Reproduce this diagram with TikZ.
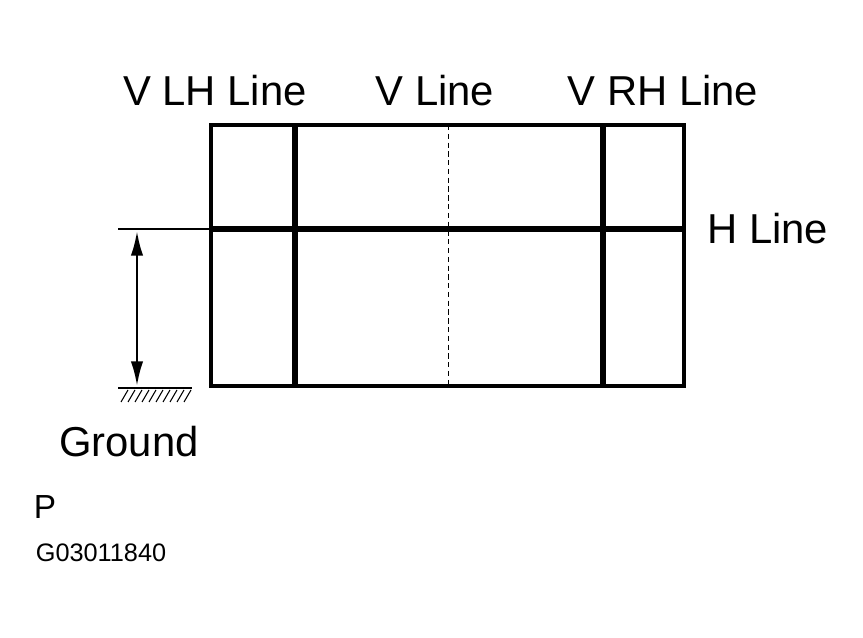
\documentclass[tikz,border=0pt]{standalone}
\usepackage{fontspec}
\setmainfont{Liberation Sans}
\usetikzlibrary{arrows.meta}
\begin{document}
\begin{tikzpicture}[x=0.02cm, y=-0.02cm,
    lbl/.style={font=\fontsize{23.8}{28}\selectfont, inner sep=0pt},
    small/.style={font=\fontsize{14.4}{17}\selectfont, inner sep=0pt},
    heavy/.style={line width=3.4pt}]
    \useasboundingbox (0,0) rectangle (863,638);
    % frame and lines
    \draw[line width=2pt] (211,125) rectangle (684,386);
    \draw[heavy] (295,125) -- (295,386);
    \draw[heavy] (603,125) -- (603,386);
    \draw[heavy] (211,229) -- (684,229);
    \draw[densely dashed, line width=0.5pt] (448,125) -- (448,386);
    % height dimension
    \coordinate (top) at (118,229);
    \coordinate (gl) at (118,388);
    \coordinate (gr) at (192,388);
    \draw[line width=0.9pt] (top) -- (211,229);
    \draw[line width=1.4pt] (gl) -- (gr);
    \foreach \i in {0,...,9}
        \draw[line width=0.6pt] (121+7*\i,402) -- (128+7*\i,390);
    \draw[line width=1.4pt, {Latex[length=14pt,width=7pt]}-{Latex[length=14pt,width=7pt]}] (137,231) -- (137,386);
    % labels
    \node[lbl] (vlh) at (215,91) {V LH Line};
    \node[lbl] (vl) at (435,91) {V Line};
    \node[lbl] (vrh) at (663,91) {V RH Line};
    \node[lbl, anchor=west] (hl) at (707,229) {H Line};
    \node[lbl] (gnd) at (129,442) {Ground};
    \node[font=\fontsize{19}{22}\selectfont, inner sep=0pt] (p) at (45,507) {P};
    \node[small] (code) at (101,553) {G03011840};
\end{tikzpicture}
\end{document}
